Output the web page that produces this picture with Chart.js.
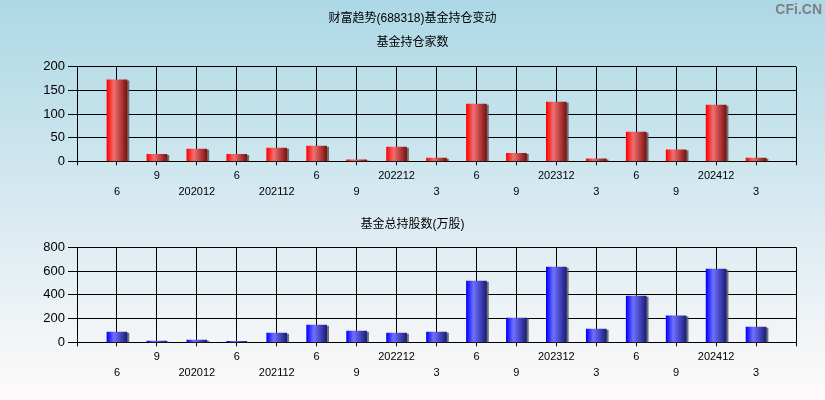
<!DOCTYPE html>
<html>
<head>
<meta charset="utf-8">
<script src="https://cdn.jsdelivr.net/npm/chart.js@4"></script>
<style>
  html, body { margin: 0; padding: 0; }
  body {
    width: 825px;
    height: 400px;
    position: relative;
    overflow: hidden;
    background: linear-gradient(to bottom, #add8e6 0%, #fffafa 100%);
  }
  canvas { position: absolute; left: 0; }
  #c1 { top: 0; }
  #c2 { top: 200px; }
  #logo {
    position: absolute;
    right: 3px;
    top: 1px;
    font: bold 14px "Liberation Sans", Arial, sans-serif;
    color: #808080;
  }
</style>
</head>
<body>
<canvas id="c1" width="825" height="200"></canvas>
<canvas id="c2" width="825" height="200"></canvas>
<div id="logo">CFi.CN</div>
<script>
// 报告期 (2020-06 ... 2025-03)
const periodos = ["6", "9", "202012", "6", "202112", "6", "9", "202212", "3",
  "6", "9", "202312", "3", "6", "9", "202412", "3"];
// 基金持仓家数
const jiashu = [172, 15, 26, 15, 28, 32, 3, 30, 7, 121, 17, 125, 5, 62, 24, 119, 7];
// 基金总持股数(万股)
const chigu = [87, 10, 19, 8, 78, 146, 95, 78, 87, 516, 203, 634, 112, 390, 222, 617, 129];

const fuente = "'Liberation Sans', 'Noto Sans CJK SC', Arial, sans-serif";

// eje con un hueco al principio y al final
const etiquetas = ["", ...periodos, ""];
const relleno = (arr) => [null, ...arr, null];

const sombra = {
  id: "sombra",
  beforeDatasetsDraw(chart) {
    const ctx = chart.ctx;
    ctx.save();
    ctx.shadowColor = "rgba(90,90,90,0.85)";
    ctx.shadowOffsetX = 2;
    ctx.shadowOffsetY = 1;
    ctx.shadowBlur = 0;
  },
  afterDatasetsDraw(chart) {
    chart.ctx.restore();
  },
};

function degradado(c1, c2, c3) {
  return (ctx) => {
    const chart = ctx.chart;
    if (!chart.chartArea) return c1;
    const x = chart.scales.x.getPixelForValue(ctx.dataIndex);
    const g = chart.ctx.createLinearGradient(x - 10, 0, x + 10, 0);
    g.addColorStop(0, c1);
    g.addColorStop(0.35, c2);
    g.addColorStop(1, c3);
    return g;
  };
}

function crearGrafico(id, serie, opts) {
  return new Chart(document.getElementById(id), {
    type: "bar",
    data: {
      labels: etiquetas,
      datasets: [
        {
          data: relleno(serie),
          backgroundColor: degradado(opts.c1, opts.c2, opts.c3),
          barThickness: 20,
          borderWidth: 0,
        },
      ],
    },
    plugins: [sombra],
    options: {
      responsive: false,
      animation: false,
      layout: { padding: 0 },
      plugins: {
        legend: { display: false },
        tooltip: { enabled: false },
        title: {
          display: true,
          text: opts.titulo,
          color: "#000",
          font: { size: 12, family: fuente, weight: "normal" },
          padding: opts.padTitulo,
        },
        subtitle: {
          display: !!opts.subtitulo,
          text: opts.subtitulo || "",
          color: "#000",
          font: { size: 12, family: fuente, weight: "normal" },
          padding: opts.padSub || 0,
        },
      },
      scales: {
        x: {
          offset: false,
          grid: { offset: false, color: "#000", lineWidth: 1, tickLength: 4, drawTicks: true },
          border: { color: "#000", width: 1 },
          ticks: {
            autoSkip: false,
            maxRotation: 0,
            padding: 3,
            color: "#000",
            font: { size: 11, family: fuente, lineHeight: 16 / 11 },
            callback: (v, i) => {
              const t = etiquetas[i];
              if (!t) return "";
              return i % 2 === 1 ? ["", t] : [t];
            },
          },
          afterFit: (s) => { s.height = opts.altoX; },
        },
        y: {
          min: 0,
          max: opts.max,
          grid: { color: "#000", lineWidth: 1, tickLength: 9 },
          border: { color: "#000", width: 1 },
          ticks: {
            stepSize: opts.paso,
            padding: 3,
            color: "#000",
            font: { size: 13, family: fuente },
          },
          afterFit: (s) => { s.width = 77; },
        },
        // margen derecho vacío
        derecha: {
          position: "right",
          grid: { display: false, drawTicks: false },
          border: { display: false },
          ticks: { display: false },
          afterFit: (s) => { s.width = 29; },
        },
      },
    },
  });
}

crearGrafico("c1", jiashu, {
  titulo: "财富趋势(688318)基金持仓变动",
  subtitulo: "基金持仓家数",
  padTitulo: { top: 11, bottom: 0 },
  padSub: { top: 10.4, bottom: 16.5 },
  max: 200,
  paso: 50,
  altoX: 38.7,
  c1: "#ff0000",
  c2: "#f07070",
  c3: "#801010",
});

crearGrafico("c2", chigu, {
  titulo: "基金总持股数(万股)",
  padTitulo: { top: 17.8, bottom: 15.1 },
  max: 800,
  paso: 200,
  altoX: 57.7,
  c1: "#0000ff",
  c2: "#7070ff",
  c3: "#1c1c80",
});
</script>
</body>
</html>
